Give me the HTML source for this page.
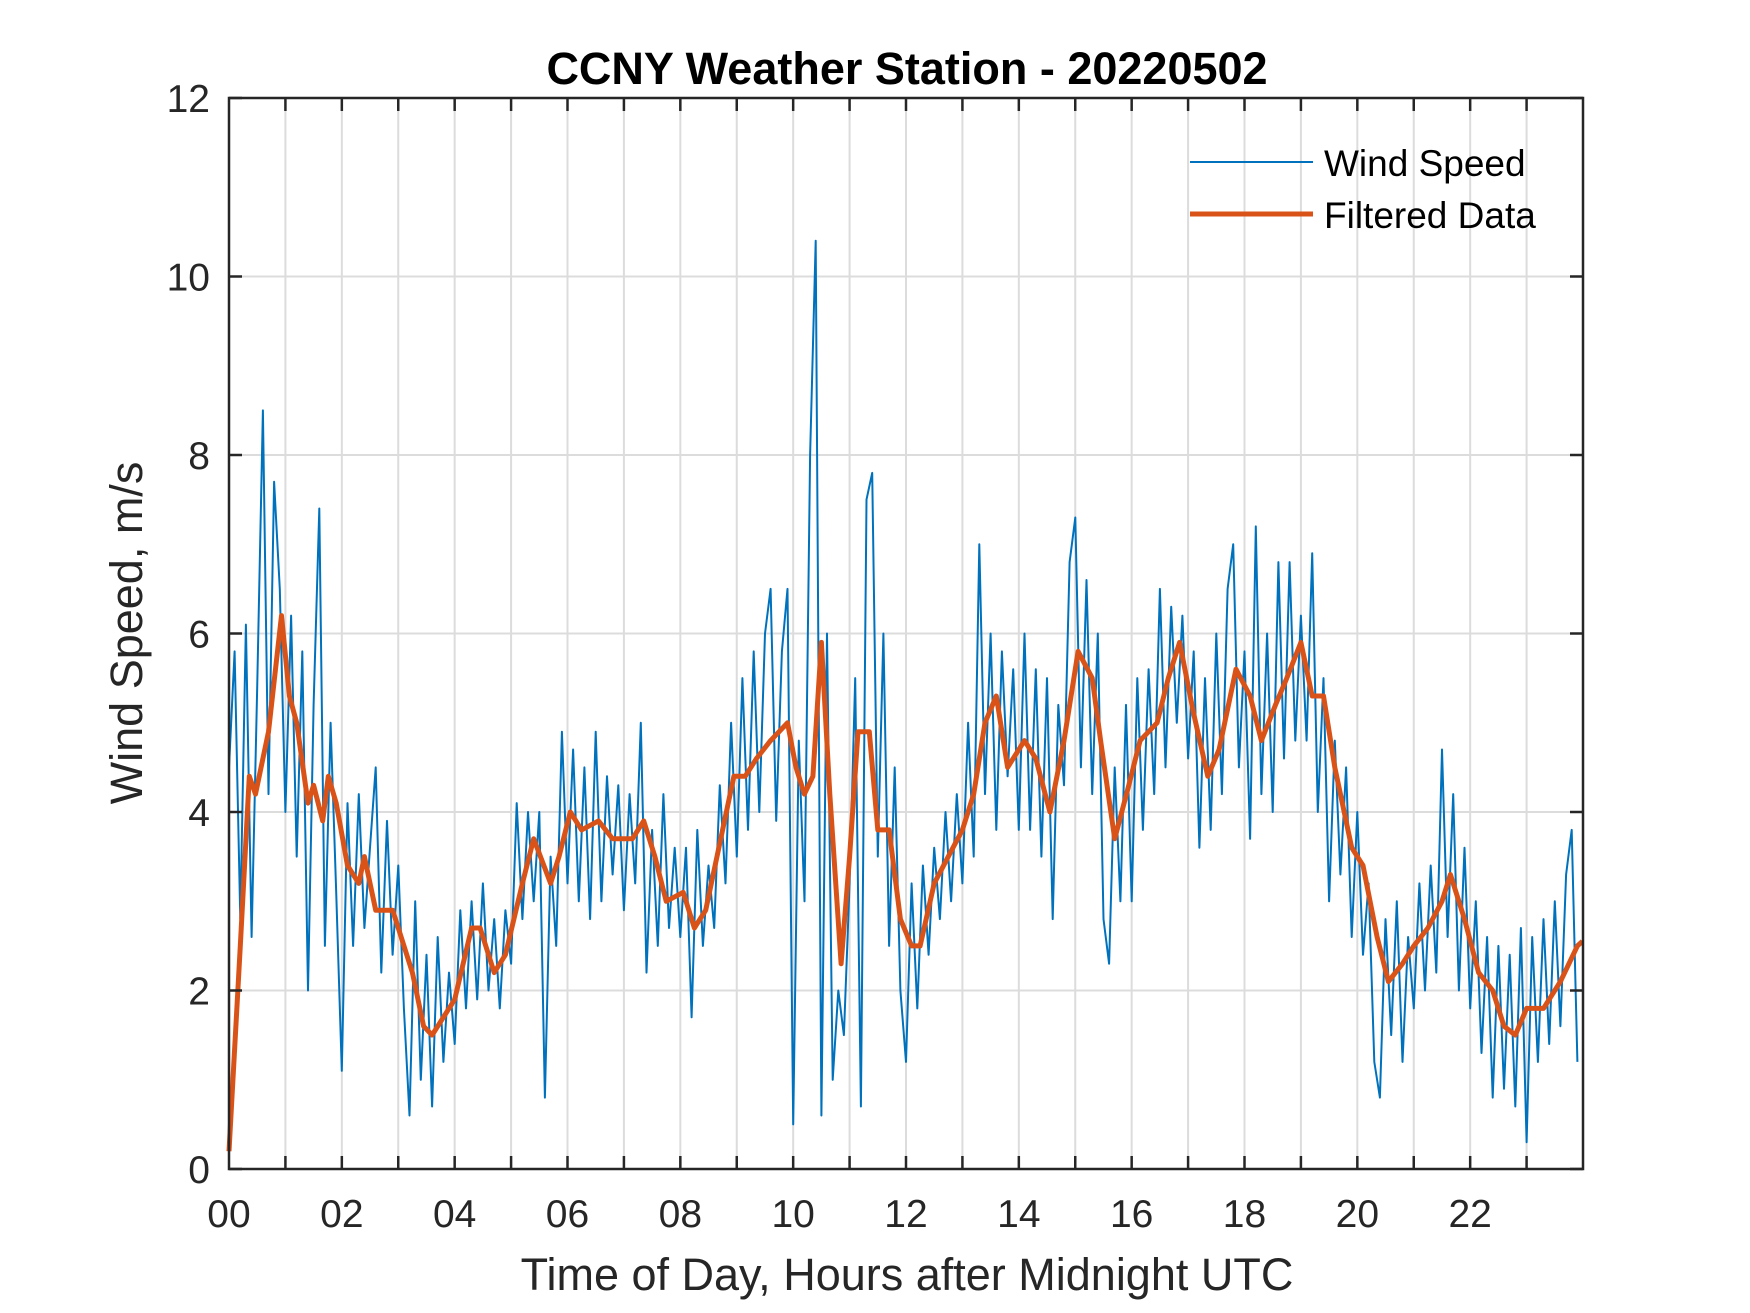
<!DOCTYPE html>
<html><head><meta charset="utf-8"><style>
html,body{margin:0;padding:0;background:#fff;}
svg{display:block;font-family:"Liberation Sans",Arial,sans-serif;}
</style></head><body>
<svg id="chart" width="1750" height="1313" viewBox="0 0 1750 1313" xmlns="http://www.w3.org/2000/svg">
<rect width="1750" height="1313" fill="#fff"/>
<g id="grid"></g>
<g id="series"></g>
<g id="axes"></g>
<text x="907" y="84" text-anchor="middle" font-size="45" font-weight="bold" fill="#000">CCNY Weather Station - 20220502</text>
<text x="907" y="1290" text-anchor="middle" font-size="45" fill="#262626">Time of Day, Hours after Midnight UTC</text>
<text transform="translate(142,633) rotate(-90)" text-anchor="middle" font-size="45" fill="#262626">Wind Speed, m/s</text>
<g>
<line x1="1190" y1="162" x2="1313" y2="162" stroke="#0072BD" stroke-width="2"/>
<text x="1324" y="176" font-size="37" fill="#000">Wind Speed</text>
<line x1="1190" y1="214" x2="1313" y2="214" stroke="#D95319" stroke-width="5"/>
<text x="1324" y="228" font-size="37" fill="#000">Filtered Data</text>
</g>
</svg>
<script>
const rawStepHours = 0.1;
const rawValues = [
4.5,5.8,2.8,6.1,2.6,5.4,8.5,4.2,7.7,6.5,
4.0,6.2,3.5,5.8,2.0,5.2,7.4,2.5,5.0,3.1,
1.1,4.1,2.5,4.2,2.7,3.6,4.5,2.2,3.9,2.4,
3.4,1.8,0.6,3.0,1.0,2.4,0.7,2.6,1.2,2.2,
1.4,2.9,1.8,3.0,1.9,3.2,2.0,2.8,1.8,2.9,
2.3,4.1,2.8,4.0,3.0,4.0,0.8,3.5,2.5,4.9,
3.2,4.7,3.0,4.5,2.8,4.9,3.0,4.4,3.3,4.3,
2.9,4.2,3.2,5.0,2.2,3.8,2.5,4.2,2.7,3.6,
2.6,3.6,1.7,3.8,2.5,3.4,2.7,4.3,3.2,5.0,
3.5,5.5,3.8,5.8,4.0,6.0,6.5,3.9,5.8,6.5,
0.5,4.8,3.0,8.0,10.4,0.6,6.0,1.0,2.0,1.5,
3.2,5.5,0.7,7.5,7.8,3.5,6.0,2.5,4.5,2.0,
1.2,3.2,1.8,3.4,2.4,3.6,2.8,4.0,3.0,4.2,
3.2,5.0,3.5,7.0,4.2,6.0,3.8,5.8,4.4,5.6,
3.8,6.0,3.8,5.6,3.5,5.5,2.8,5.2,4.3,6.8,
7.3,4.5,6.6,4.2,6.0,2.8,2.3,4.5,3.0,5.2,
3.0,5.5,3.8,5.6,4.2,6.5,4.5,6.3,5.0,6.2,
4.6,5.8,3.6,5.5,3.8,6.0,4.2,6.5,7.0,4.5,
5.8,3.7,7.2,4.2,6.0,4.0,6.8,4.6,6.8,4.8,
6.2,4.8,6.9,4.0,5.5,3.0,4.8,3.3,4.5,2.6,
4.0,2.4,3.2,1.2,0.8,2.8,1.5,3.0,1.2,2.6,
1.8,3.2,2.0,3.4,2.2,4.7,2.6,4.2,2.0,3.6,
1.8,3.0,1.3,2.6,0.8,2.5,0.9,2.4,0.7,2.7,
0.3,2.6,1.2,2.8,1.4,3.0,1.6,3.3,3.8,1.2
];
const filtHours = [0,0.2,0.36,0.47,0.7,0.93,1.07,1.2,1.4,1.5,1.66,1.76,1.9,2.1,2.3,2.4,2.6,2.9,3.0,3.25,3.45,3.6,3.8,4.0,4.3,4.45,4.7,4.9,5.2,5.4,5.7,5.85,6.05,6.25,6.55,6.8,7.15,7.35,7.55,7.75,8.05,8.25,8.45,8.75,8.95,9.15,9.35,9.6,9.9,10.05,10.2,10.35,10.5,10.65,10.85,11.0,11.15,11.35,11.5,11.7,11.9,12.1,12.25,12.5,12.75,13.0,13.2,13.4,13.6,13.8,14.1,14.3,14.55,14.8,15.05,15.3,15.45,15.7,15.95,16.15,16.45,16.65,16.85,17.1,17.35,17.55,17.85,18.1,18.3,18.55,18.75,19.0,19.2,19.4,19.6,19.9,20.1,20.35,20.55,20.8,21.0,21.25,21.5,21.65,21.9,22.15,22.4,22.6,22.8,23.0,23.3,23.6,23.9,23.99];
const filtValues = [0.2,2.5,4.4,4.2,4.9,6.2,5.3,5.0,4.1,4.3,3.9,4.4,4.1,3.4,3.2,3.5,2.9,2.9,2.7,2.2,1.6,1.5,1.7,1.9,2.7,2.7,2.2,2.4,3.2,3.7,3.2,3.5,4.0,3.8,3.9,3.7,3.7,3.9,3.5,3.0,3.1,2.7,2.9,3.8,4.4,4.4,4.6,4.8,5.0,4.5,4.2,4.4,5.9,4.2,2.3,3.5,4.9,4.9,3.8,3.8,2.8,2.5,2.5,3.2,3.5,3.8,4.2,5.0,5.3,4.5,4.8,4.6,4.0,4.8,5.8,5.5,4.8,3.7,4.3,4.8,5.0,5.5,5.9,5.1,4.4,4.7,5.6,5.3,4.8,5.2,5.5,5.9,5.3,5.3,4.5,3.6,3.4,2.6,2.1,2.3,2.5,2.7,3.0,3.3,2.8,2.2,2.0,1.6,1.5,1.8,1.8,2.1,2.5,2.55];
const xTickLabels = ["00","02","04","06","08","10","12","14","16","18","20","22"];
const yTickLabels = ["0","2","4","6","8","10","12"];

const L=229,R=1583,T=98,B=1169,XMAX=24,YMAX=12;
const xs=h=>L+(h/XMAX)*(R-L);
const ys=v=>B-(v/YMAX)*(B-T);
const NS="http://www.w3.org/2000/svg";
function mk(tag,parent,attrs){const e=document.createElementNS(NS,tag);for(const k in attrs)e.setAttribute(k,attrs[k]);parent.appendChild(e);return e;}
const grid=document.getElementById('grid'),axes=document.getElementById('axes'),series=document.getElementById('series');
for(let h=1;h<XMAX;h++){
  const g=mk('line',grid,{x1:xs(h),x2:xs(h),y1:T,y2:B,stroke:'#dcdcdc','stroke-width':2});
  
  
}
yTickLabels.forEach(t=>{const v=+t;if(v>0&&v<YMAX){
  const g=mk('line',grid,{x1:L,x2:R,y1:ys(v),y2:ys(v),stroke:'#dcdcdc','stroke-width':2});
  
  
}});
let d='';rawValues.forEach((v,i)=>{d+=(i?'L':'M')+xs(Math.min(i*rawStepHours,XMAX)).toFixed(1)+' '+ys(v).toFixed(1);});
const raw=mk('path',series,{d:d,fill:'none',stroke:'#0072BD','stroke-width':2,'stroke-linejoin':'round'});


let d2='';filtHours.forEach((h,i)=>{d2+=(i?'L':'M')+xs(h).toFixed(1)+' '+ys(filtValues[i]).toFixed(1);});
const filt=mk('path',series,{d:d2,fill:'none',stroke:'#D95319','stroke-width':5,'stroke-linejoin':'round'});


const box=mk('rect',axes,{x:L,y:T,width:R-L,height:B-T,fill:'none',stroke:'#262626','stroke-width':2.5});


for(let h=1;h<XMAX;h++){
  const a=mk('line',axes,{x1:xs(h),x2:xs(h),y1:B,y2:B-13,stroke:'#262626','stroke-width':2.5});
  
  
  const b=mk('line',axes,{x1:xs(h),x2:xs(h),y1:T,y2:T+13,stroke:'#262626','stroke-width':2.5});
  
  
}
xTickLabels.forEach(t=>{
  const e=mk('text',axes,{x:xs(+t),y:1227,'text-anchor':'middle','font-size':39,fill:'#262626'});
  e.textContent=t;
  
  
});
yTickLabels.forEach(t=>{
  const v=+t;
  const e=mk('text',axes,{x:210,y:ys(v)+14,'text-anchor':'end','font-size':39,fill:'#262626'});
  e.textContent=t;
  
  
  const a=mk('line',axes,{x1:L,x2:L+13,y1:ys(v),y2:ys(v),stroke:'#262626','stroke-width':2.5});
  
  
  const b=mk('line',axes,{x1:R,x2:R-13,y1:ys(v),y2:ys(v),stroke:'#262626','stroke-width':2.5});
  
  
});
</script>
</body></html>
